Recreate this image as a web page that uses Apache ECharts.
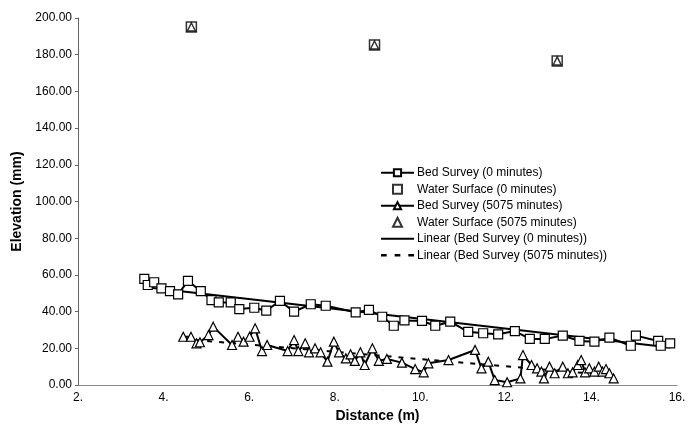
<!DOCTYPE html>
<html>
<head>
<meta charset="utf-8">
<script src="https://cdn.jsdelivr.net/npm/echarts@6/dist/echarts.min.js"></script>
<style>
html,body{margin:0;padding:0;background:#fff;}
#chart{width:700px;height:428px;}
</style>
</head>
<body>
<div id="chart"></div>
<script>
// Bed Survey (0 minutes): [distance m, elevation mm]
var bed0 = [[3.55,57.8],[3.63,54.5],[3.78,56],[3.95,52.7],[4.15,51.2],[4.34,49.4],[4.57,56.7],[4.87,51.2],[5.12,46.3],[5.29,45],[5.57,45],[5.77,41.4],[6.12,42.1],[6.4,40.5],[6.72,45.8],[7.05,40],[7.44,44],[7.79,43.2],[8.49,39.6],[8.8,40.9],[9.11,37.2],[9.38,32.3],[9.63,35.2],[10.04,34.9],[10.35,32.3],[10.7,34.5],[11.12,29],[11.47,28.2],[11.82,27.6],[12.21,29.4],[12.56,25.1],[12.91,25.1],[13.33,26.9],[13.72,24],[14.07,23.6],[14.42,25.8],[14.92,21.4],[15.04,26.9],[15.56,24],[15.62,21.4],[15.84,22.7]];
// Bed Survey (5075 minutes)
var bed5075 = [[4.46,26.3],[4.64,26.3],[4.77,22.7],[4.85,23.3],[5.05,27.2],[5.16,31.8],[5.6,21.8],[5.74,26.3],[5.87,23.6],[6.01,26.3],[6.14,30.9],[6.3,18.5],[6.42,21.8],[6.9,18.5],[7.05,24.5],[7.15,18.5],[7.31,22.7],[7.4,17.8],[7.54,20],[7.67,17.8],[7.83,12.7],[7.98,23.6],[8.1,17.8],[8.26,14.5],[8.37,16.7],[8.47,13.1],[8.6,17.8],[8.7,10.9],[8.88,20],[9.03,13.2],[9.22,14.2],[9.57,12.2],[9.88,8.7],[10.08,6.9],[10.19,11.8],[10.66,13.6],[11.28,19.1],[11.43,9.1],[11.59,12.7],[11.74,2.7],[12.03,1.5],[12.34,3.6],[12.4,16.3],[12.6,10.9],[12.73,9.1],[12.83,7.3],[12.89,3.6],[13.02,10],[13.14,6.4],[13.33,10],[13.45,6.4],[13.56,6.9],[13.68,10.9],[13.76,13.6],[13.85,6.9],[13.95,9.1],[14.07,7.3],[14.17,10],[14.26,7.3],[14.34,8.7],[14.42,6.4],[14.52,3.6]];
// Water surface
var water0 = [[4.65,195.1],[8.93,185.3],[13.2,176.6]];
var water5075 = [[4.65,195.1],[8.93,185.3],[13.2,176.6]];
// Linear trend lines (endpoints)
var trend0 = [[3.55,53.4],[15.84,20.5]];
var trend5075 = [[4.46,25.1],[14.52,5.2]];
// Axis settings
var xMin = 2, xMax = 16, xStep = 2;
var yMin = 0, yMax = 200, yStep = 20;

var names = ['Bed Survey (0 minutes)','Water Surface (0 minutes)','Bed Survey (5075 minutes)','Water Surface (5075 minutes)','Linear (Bed Survey (0 minutes))','Linear (Bed Survey (5075 minutes))'];

var chart = echarts.init(document.getElementById('chart'));
var font = 'Liberation Sans, Arial, sans-serif';
chart.setOption({
  animation: false,
  backgroundColor: '#fff',
  textStyle: {fontFamily: font},
  grid: {left: 78, right: 23, top: 18, bottom: 43},
  legend: {
    orient: 'vertical', left: 375, top: 161,
    itemWidth: 33, itemHeight: 9, itemGap: 3,
    textStyle: {fontSize: 12, color: '#000', fontFamily: font, lineHeight: 13.5, padding: [0,0,0,-2]},
    data: [
      {name: names[0]},
      {name: names[1], icon: 'path://M0,0 L9,0 L9,9 L0,9 Z'},
      {name: names[2]},
      {name: names[3], icon: 'path://M4.5,0 L9,9 L0,9 Z'},
      {name: names[4], icon: 'path://M0,0 L33,0 L33,2.2 L0,2.2 Z'},
      {name: names[5], icon: 'path://M0,0 L5,0 L5,2 L0,2 Z M12,0 L17,0 L17,2 L12,2 Z M24,0 L29,0 L29,2 L24,2 Z'}
    ]
  },
  xAxis: {
    type: 'value', min: xMin, max: xMax, interval: xStep,
    name: 'Distance (m)', nameLocation: 'middle', nameGap: 18,
    nameTextStyle: {fontSize: 14, fontWeight: 'bold', color: '#000', fontFamily: font},
    axisLine: {lineStyle: {color: '#888', width: 1}},
    axisTick: {show: false},
    splitLine: {show: false},
    axisLabel: {fontSize: 12, color: '#000', formatter: function(v){return v + '.';}, margin: 7}
  },
  yAxis: {
    type: 'value', min: yMin, max: yMax, interval: yStep,
    name: 'Elevation (mm)', nameLocation: 'middle', nameGap: 49,
    nameTextStyle: {fontSize: 14, fontWeight: 'bold', color: '#000', fontFamily: font},
    axisLine: {show: true, lineStyle: {color: '#666', width: 1}},
    axisTick: {show: true, length: 3, lineStyle: {color: '#666'}},
    splitLine: {show: false},
    axisLabel: {fontSize: 12, color: '#000', formatter: function(v){return v.toFixed(2);}, margin: 6}
  },
  series: [
    {name: names[0], type: 'line', data: bed0, symbol: 'rect', symbolSize: 9,
     lineStyle: {color: '#000', width: 2}, itemStyle: {color: '#fff', borderColor: '#000', borderWidth: 1.2}, z: 3},
    {name: names[1], type: 'scatter', data: water0, symbol: 'rect', symbolSize: 10,
     itemStyle: {color: '#fff', borderColor: '#000', borderWidth: 1.5}, z: 4},
    {name: names[2], type: 'line', data: bed5075, symbol: 'triangle', symbolSize: 9,
     lineStyle: {color: '#000', width: 2}, itemStyle: {color: '#fff', borderColor: '#000', borderWidth: 1.2}, z: 3},
    {name: names[3], type: 'scatter', data: water5075, symbol: 'triangle', symbolSize: 8,
     itemStyle: {color: '#fff', borderColor: '#000', borderWidth: 1.5}, z: 5},
    {name: names[4], type: 'line', data: trend0, symbol: 'none',
     itemStyle: {color: '#000', borderWidth: 0},
     lineStyle: {color: '#000', width: 2}, z: 2},
    {name: names[5], type: 'line', data: trend5075, symbol: 'none',
     itemStyle: {color: '#000', borderWidth: 0},
     lineStyle: {color: '#000', width: 2, type: [5, 7]}, z: 2}
  ]
});
</script>
</body>
</html>
